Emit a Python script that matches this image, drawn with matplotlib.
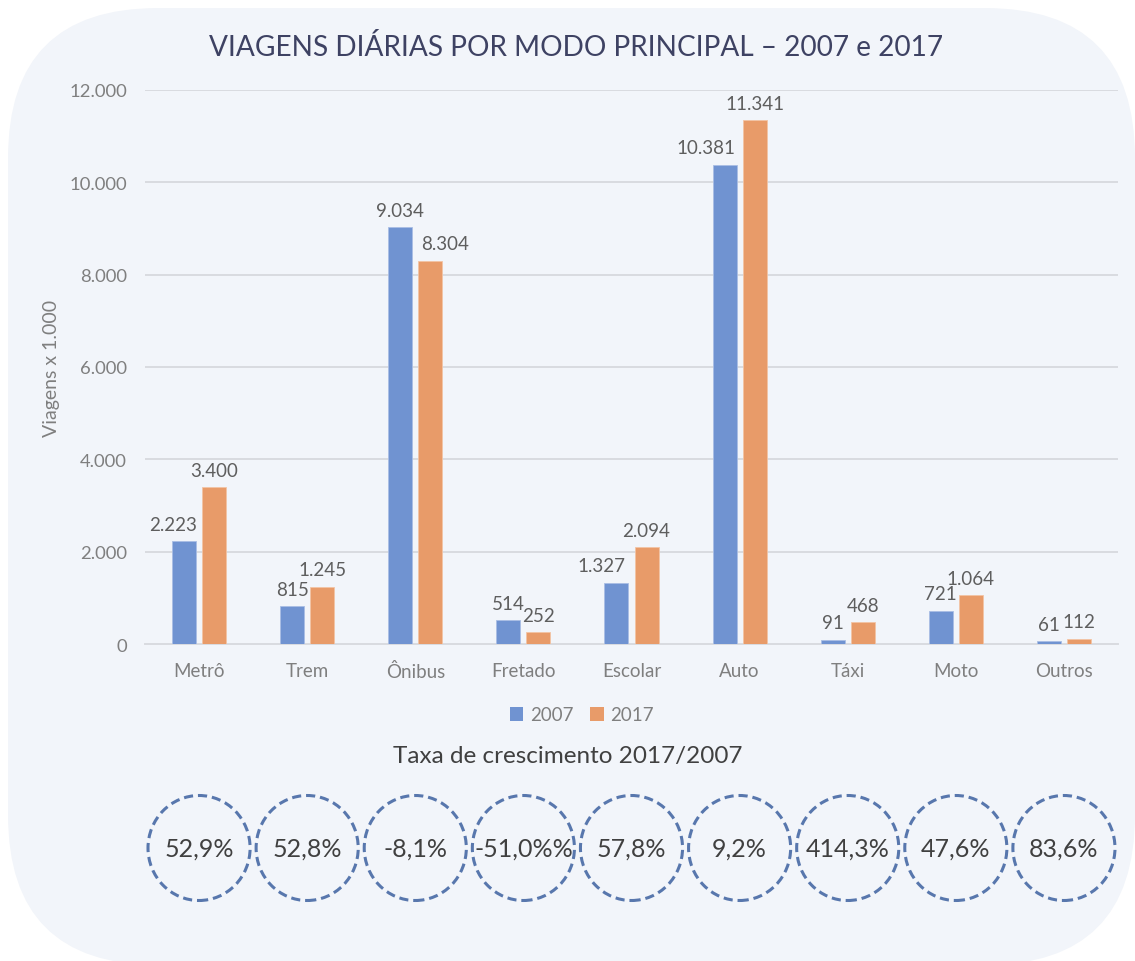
import matplotlib
matplotlib.use("Agg")
import matplotlib.pyplot as plt
from matplotlib.patches import FancyBboxPatch, Ellipse, Patch
from matplotlib.transforms import IdentityTransform, blended_transform_factory
from matplotlib.ticker import FuncFormatter
import numpy as np

# ---------------- data ----------------
categories = ["Metrô", "Trem", "Ônibus", "Fretado", "Escolar", "Auto", "Táxi", "Moto", "Outros"]
v2007 = [2223, 815, 9034, 514, 1327, 10381, 91, 721, 61]
v2017 = [3400, 1245, 8304, 252, 2094, 11341, 468, 1064, 112]
growth_labels = ["52,9%", "52,8%", "-8,1%", "-51,0%%", "57,8%", "9,2%", "414,3%", "47,6%", "83,6%"]
series_names = ["2007", "2017"]
yticks = [0, 2000, 4000, 6000, 8000, 10000, 12000]

# label horizontal nudges (pixels), as in the reference layout
dx2007 = [-11, 0, 0, 0, -15, -19, 0, 0, 0]
dx2017 = [0, 0, 15, 0, 0, 0, 0, 0, 0]

W, H = 1135, 962
DPI = 100
plt.rcParams['font.family'] = ['Lato', 'DejaVu Sans']

fig = plt.figure(figsize=(W / DPI, H / DPI), dpi=DPI)
fig.patch.set_facecolor('white')

# rounded background panel (pixel coordinates)
bg = FancyBboxPatch((8, H - 966), 1127, 957,
                    boxstyle="round,pad=0,rounding_size=150",
                    transform=IdentityTransform(),
                    facecolor='#F2F5FA', edgecolor='none', zorder=-10)
fig.add_artist(bg)

c2007 = '#7093D1'
c2017 = '#E89B69'
grid_c = '#D9DBE0'
tick_c = '#7F7F7F'
lab_c = '#5E5E5E'

left, right = 145 / W, 1118 / W
bottom, top = (H - 645) / H, (H - 91) / H
ax = fig.add_axes([left, bottom, right - left, top - bottom])
ax.set_facecolor('none')

x = np.arange(len(categories))
bw = 24 / 108
off = 15 / 108
ax.bar(x - off, v2007, bw, color=c2007, edgecolor='#A9BEE4', linewidth=0.6, zorder=3)
ax.bar(x + off, v2017, bw, color=c2017, edgecolor='#F3C4A5', linewidth=0.6, zorder=3)

def fmt(v):
    return f"{v:,}".replace(",", ".")

for i in range(len(categories)):
    ax.annotate(fmt(v2007[i]), (x[i] - off, v2007[i]), xytext=(dx2007[i] * 0.72, 6),
                textcoords='offset points', ha='center', va='bottom',
                fontsize=13.5, color=lab_c, zorder=4)
    ax.annotate(fmt(v2017[i]), (x[i] + off, v2017[i]), xytext=(dx2017[i] * 0.72, 6),
                textcoords='offset points', ha='center', va='bottom',
                fontsize=13.5, color=lab_c, zorder=4)

ax.set_xlim(-0.5, len(categories) - 0.5)
ax.set_ylim(0, 12000)
ax.set_yticks(yticks)
ax.yaxis.set_major_formatter(FuncFormatter(lambda v, p: fmt(int(v))))
ax.set_xticks(x)
ax.set_xticklabels(categories)
ax.tick_params(axis='y', length=0, pad=13, labelsize=13.3, labelcolor=tick_c)
ax.tick_params(axis='x', length=0, pad=13, labelsize=13.5, labelcolor=tick_c)
ax.grid(axis='y', color=grid_c, linewidth=1.4, zorder=0)
ax.set_axisbelow(True)
for s in ['top', 'right', 'left']:
    ax.spines[s].set_visible(False)
ax.spines['bottom'].set_color(grid_c)
ax.spines['bottom'].set_linewidth(1.4)

# title and labels
fig.text(576 / W, (H - 47) / H, "VIAGENS DIÁRIAS POR MODO PRINCIPAL – 2007 e 2017",
         ha='center', va='center', fontsize=20.2, color='#3E4263')
fig.text(52 / W, (H - 368) / H, "Viagens x 1.000", rotation=90,
         ha='center', va='center', fontsize=14, color=tick_c)

handles = [Patch(facecolor=c2007, edgecolor='none'), Patch(facecolor=c2017, edgecolor='none')]
fig.legend(handles, series_names, loc='center', bbox_to_anchor=(582 / W, (H - 716) / H),
           ncol=2, frameon=False, fontsize=13.5, labelcolor=tick_c,
           handlelength=0.7, handleheight=0.7, handletextpad=0.35, columnspacing=0.9)

fig.text(568 / W, (H - 757) / H, "Taxa de crescimento 2017/2007",
         ha='center', va='center', fontsize=17.5, color='#404040')

# growth circles aligned with the categories
tr = blended_transform_factory(ax.transData, fig.transFigure)
cy = (H - 849) / H
for i, g in enumerate(growth_labels):
    e = Ellipse((x[i], cy), 102 / 108, 105 / H, transform=tr, fill=False,
                edgecolor='#5877AD', linewidth=2.2, linestyle=(0, (3.0, 1.6)),
                clip_on=False, zorder=5)
    ax.add_patch(e)
    ax.text(x[i], cy, g, transform=tr, ha='center', va='center',
            fontsize=18, color='#404040', clip_on=False, zorder=6)

fig.savefig("out.png", dpi=DPI, facecolor=fig.get_facecolor())
